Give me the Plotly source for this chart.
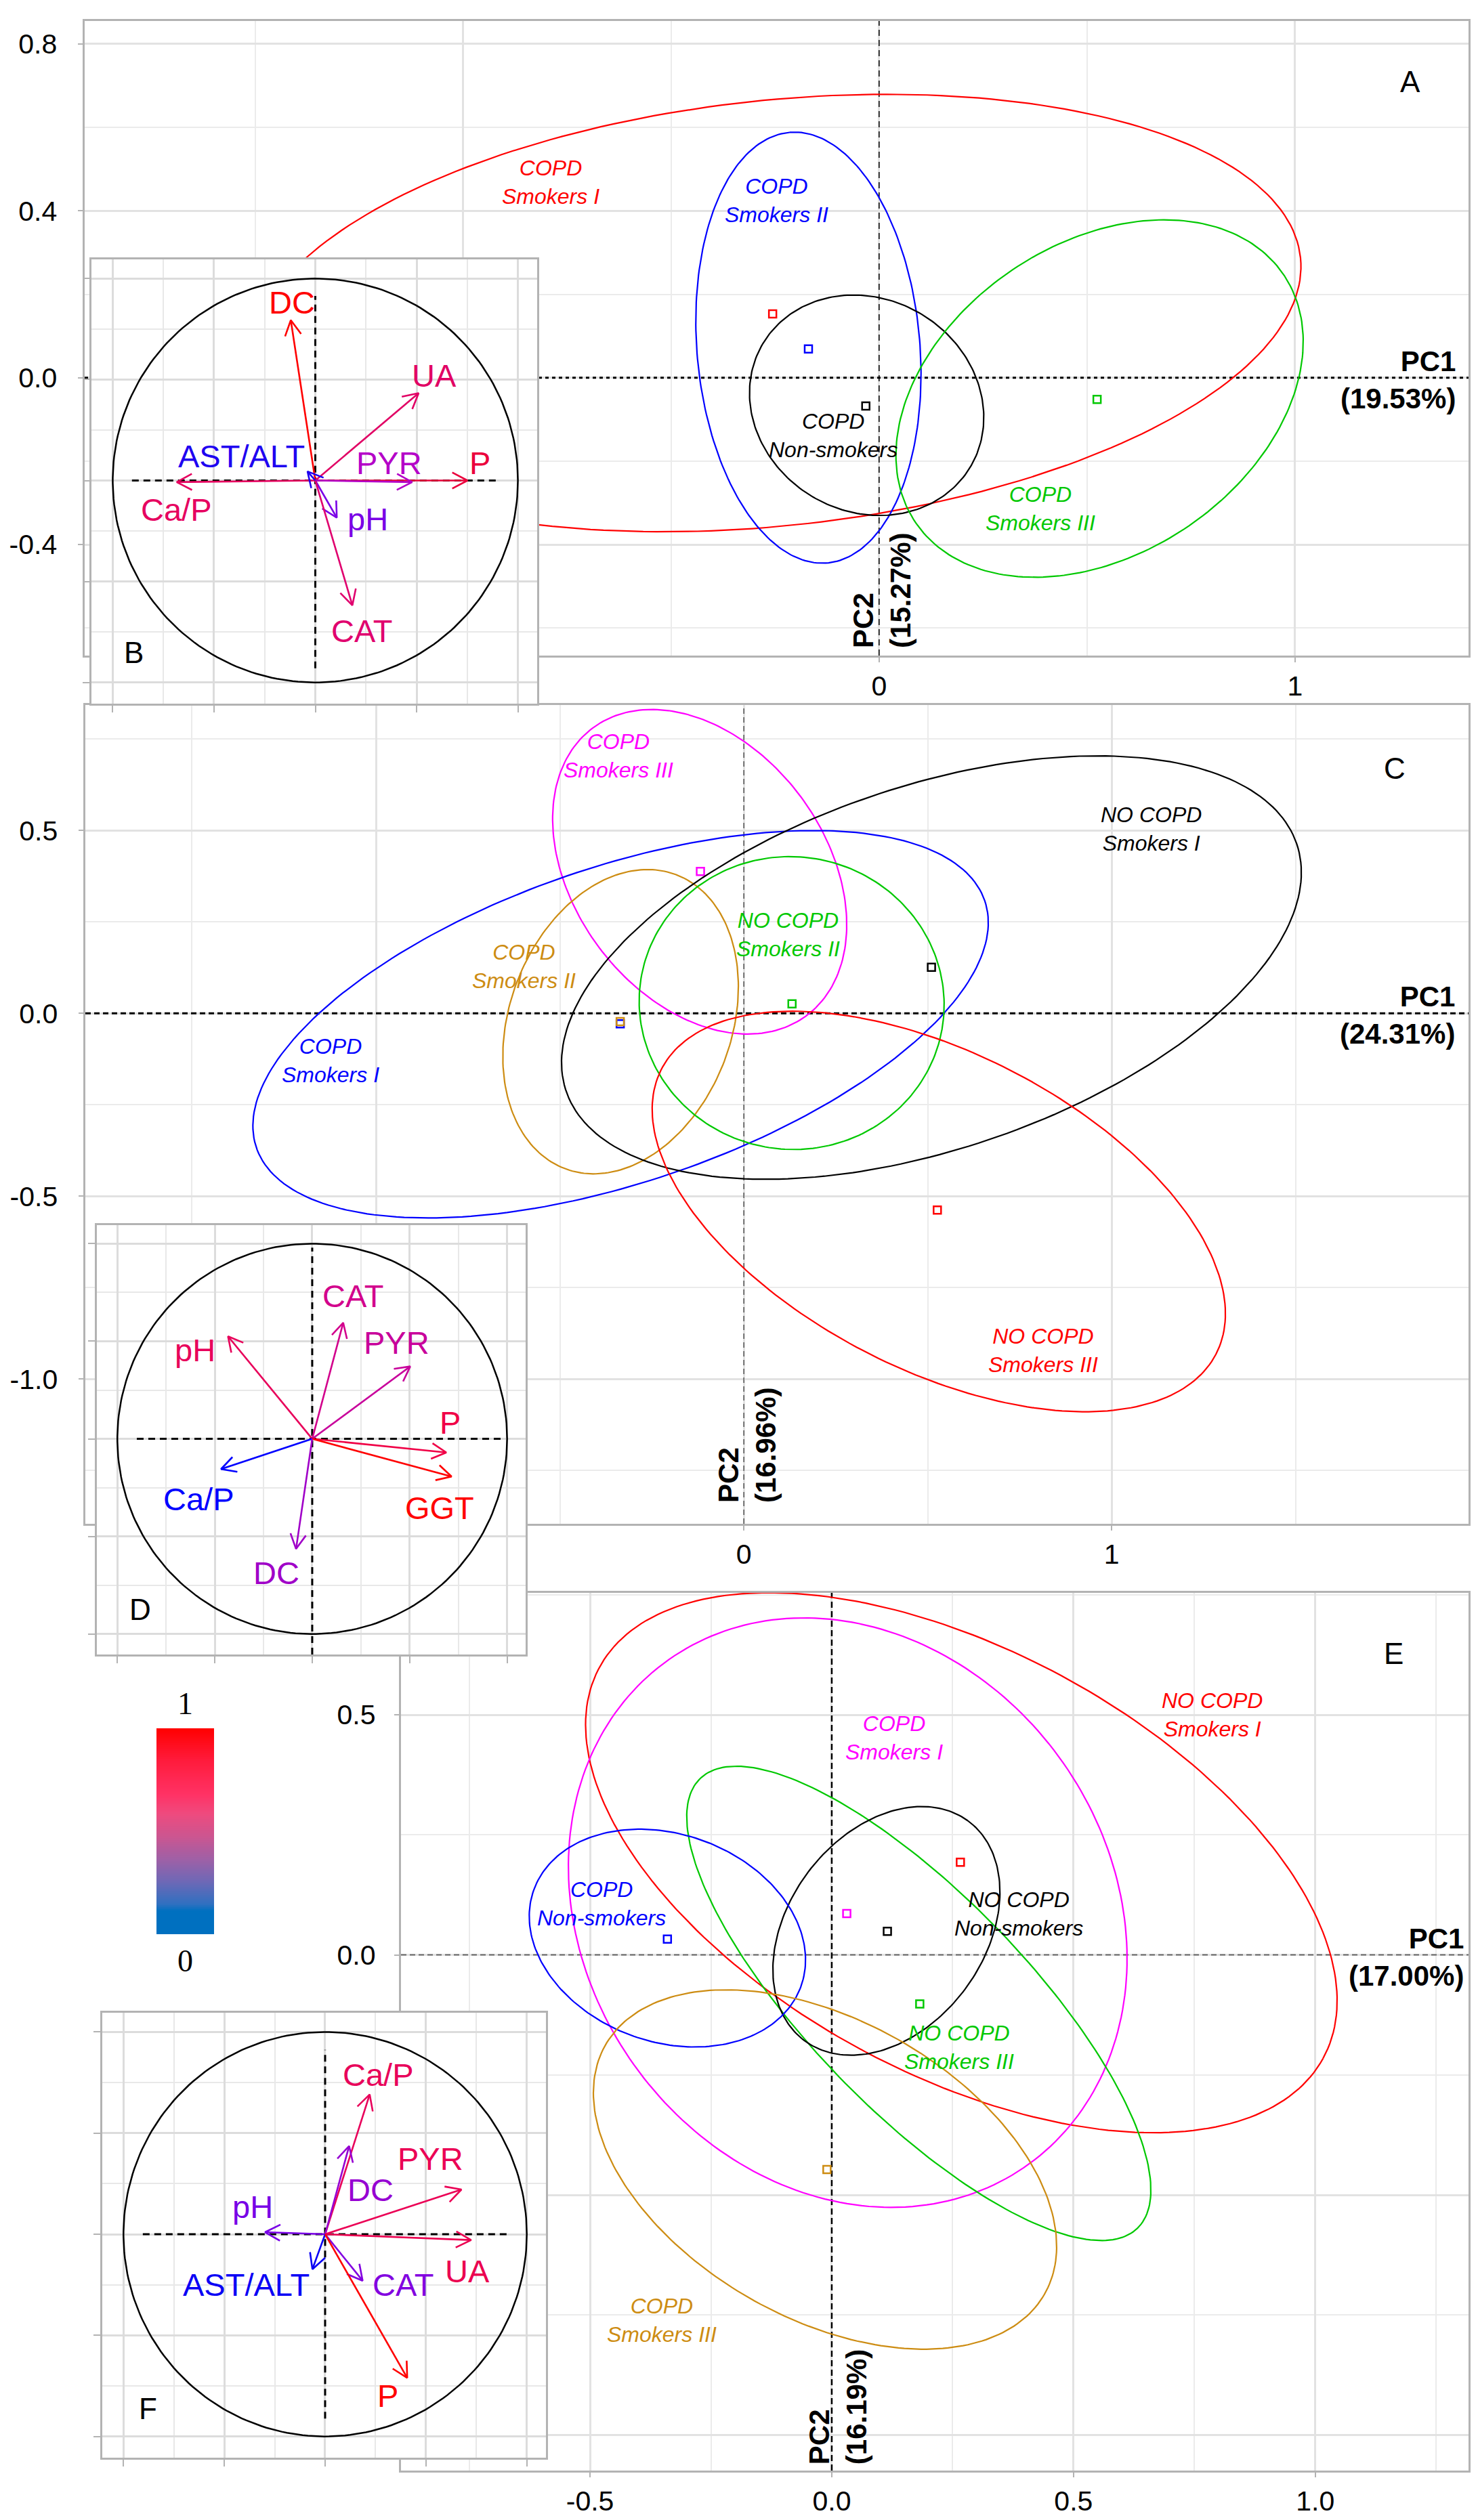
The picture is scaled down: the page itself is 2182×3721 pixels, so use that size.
import numpy as np
import plotly.graph_objects as go

W, H = 2182, 3721
FONT = "Liberation Sans, Arial, sans-serif"

# ---------------- DATA ----------------
# Panel A (groups: mean point + confidence ellipse parameters)
A_names = ["COPD<br>Smokers I", "COPD<br>Smokers II", "COPD<br>Non-smokers", "COPD<br>Smokers III"]
A_colors = ["#FF0000", "#0000FF", "#000000", "#00C800"]
A_pt_x = [-0.256, -0.170, -0.032, 0.524]
A_pt_y = [0.153, 0.069, -0.068, -0.052]
A_ell_cx = [-0.25, -0.17, -0.03, 0.53]
A_ell_cy = [0.155, 0.072, -0.066, -0.05]
A_ell_a = [1.27, 0.518, 0.29, 0.533]
A_ell_b = [0.51, 0.268, 0.255, 0.373]
A_ell_ang = [6, 95, -30, 33.6]
A_lab_x = [-0.789, -0.247, -0.111, 0.388]
A_lab_y = [0.469, 0.425, -0.138, -0.314]

# Panel C
C_names = ["COPD<br>Smokers III", "COPD<br>Smokers I", "COPD<br>Smokers II",
           "NO COPD<br>Smokers I", "NO COPD<br>Smokers II", "NO COPD<br>Smokers III"]
C_colors = ["#FF00FF", "#0000FF", "#CD8C12", "#000000", "#00C800", "#FF0000"]
C_pt_x = [-0.118, -0.336, -0.336, 0.51, 0.131, 0.526]
C_pt_y = [0.388, -0.029, -0.023, 0.126, 0.026, -0.538]
C_ell_cx = [-0.12, -0.335, -0.335, 0.51, 0.13, 0.53]
C_ell_cy = [0.387, -0.03, -0.023, 0.125, 0.028, -0.542]
C_ell_a = [0.489, 1.046, 0.4295, 1.049, 0.415, 0.8485]
C_ell_b = [0.343, 0.431, 0.302, 0.496, 0.40, 0.4325]
C_ell_ang = [-53.9, 18.86, 69.6, 18.85, -10, -27.4]
C_lab_x = [-0.341, -1.123, -0.597, 1.108, 0.121, 0.813]
C_lab_y = [0.704, -0.129, 0.129, 0.505, 0.216, -0.922]

# Panel E
E_names = ["NO COPD<br>Smokers I", "COPD<br>Smokers I", "NO COPD<br>Smokers III",
           "NO COPD<br>Non-smokers", "COPD<br>Non-smokers", "COPD<br>Smokers III"]
E_colors = ["#FF0000", "#FF00FF", "#00C800", "#000000", "#0000FF", "#CD8C12"]
E_pt_x = [0.266, 0.031, 0.182, 0.115, -0.34, -0.01]
E_pt_y = [0.193, 0.086, -0.102, 0.049, 0.033, -0.447]
E_ell_cx = [0.268, 0.033, 0.18, 0.113, -0.34, -0.014]
E_ell_cy = [0.192, 0.088, -0.101, 0.05, 0.035, -0.447]
E_ell_a = [0.852, 0.644, 0.651, 0.2846, 0.294, 0.523]
E_ell_b = [0.441, 0.544, 0.225, 0.203, 0.216, 0.31]
E_ell_ang = [-28.6, -55.6, -46.04, 53.7, -20.3, -29.85]
E_lab_x = [0.787, 0.129, 0.264, 0.387, -0.477, -0.352]
E_lab_y = [0.5, 0.452, -0.192, 0.086, 0.106, -0.761]

# Variable loading insets
B_vars = ["DC", "UA", "P", "PYR", "Ca/P", "AST/ALT", "pH", "CAT"]
B_x = [-0.121, 0.510, 0.751, 0.478, -0.684, -0.0385, 0.106, 0.183]
B_y = [0.794, 0.433, 0.0, -0.008, -0.008, 0.045, -0.184, -0.618]
B_lx = [-0.116, 0.587, 0.813, 0.366, -0.684, -0.366, 0.260, 0.231]
B_ly = [0.882, 0.521, 0.088, 0.088, -0.144, 0.120, -0.192, -0.746]
B_col = ["#FF0000", "#E10064", "#EB003C", "#B400C8", "#E6005F", "#1E00F0", "#7A00E6", "#E0006E"]

D_vars = ["CAT", "PYR", "pH", "P", "GGT", "Ca/P", "DC"]
D_x = [0.159, 0.503, -0.432, 0.688, 0.715, -0.468, -0.083]
D_y = [0.595, 0.371, 0.525, -0.070, -0.193, -0.155, -0.564]
D_lx = [0.212, 0.432, -0.600, 0.706, 0.653, -0.582, -0.185]
D_ly = [0.734, 0.494, 0.456, 0.085, -0.355, -0.309, -0.688]
D_col = ["#D2008C", "#C8009B", "#E8005A", "#F00046", "#FF0000", "#0000FF", "#A000C8"]

F_vars = ["Ca/P", "DC", "PYR", "UA", "pH", "AST/ALT", "CAT", "P"]
F_x = [0.221, 0.119, 0.676, 0.724, -0.298, -0.063, 0.186, 0.407]
F_y = [0.691, 0.436, 0.221, -0.029, 0.010, -0.173, -0.230, -0.710]
F_lx = [0.263, 0.225, 0.522, 0.705, -0.361, -0.390, 0.388, 0.311]
F_ly = [0.787, 0.221, 0.374, -0.182, 0.134, -0.250, -0.250, -0.797]
F_col = ["#E8005A", "#9600D2", "#EB0055", "#EB0050", "#7800E6", "#0A00F5", "#8200E0", "#FF0000"]

# Axis ticks (labels that lie under the insets are blank, as in the figure)
A_xt = [-1, 0, 1]; A_xl = ["", "0", "1"]
A_yt = [-0.4, 0.0, 0.4, 0.8]; A_yl = ["-0.4", "0.0", "0.4", "0.8"]
C_xt = [-1, 0, 1]; C_xl = ["", "0", "1"]
C_yt = [-1.0, -0.5, 0.0, 0.5]; C_yl = ["-1.0", "-0.5", "0.0", "0.5"]
E_xt = [-0.5, 0.0, 0.5, 1.0]; E_xl = ["-0.5", "0.0", "0.5", "1.0"]
E_yt = [-1.0, -0.5, 0.0, 0.5]; E_yl = ["", "", "0.0", "0.5"]

# Colour bar (contribution scale)
cb_scale = [[0, "#0070C0"], [0.115, "#0070C0"], [0.148, "#3070C0"], [0.257, "#6E68B6"],
            [0.367, "#A060A6"], [0.476, "#CC5590"], [0.586, "#EE4A7E"], [0.674, "#FF3366"],
            [0.85, "#FF1A3A"], [1, "#FF0000"]]
cb_levels = list(np.linspace(0, 1, 201))

# ---------------- LAYOUT HELPERS ----------------
def dx(x0, x1):
    return [x0 / W, x1 / W]

def dy(top, bottom):
    return [1 - bottom / H, 1 - top / H]

A_rng = ([-1.910, 1.417], [-0.666, 0.855])
C_rng = ([-1.790, 1.970], [-1.396, 0.843])
E_rng = ([-0.891, 1.317], [-1.074, 0.754])
I_rng = [-1.105, 1.095]

NB = "\u00a0"

def main_axis(rng, tv, tt, minor, domain, anchor, pad=""):
    return dict(domain=domain, range=rng, anchor=anchor, tickmode="array", tickvals=tv,
                ticktext=[(s + pad) if s else "" for s in tt],
                showgrid=True, gridcolor="#e2e2e2", gridwidth=2.5,
                minor=dict(tickmode="array", tickvals=minor, showgrid=True, gridcolor="#ebebeb",
                           gridwidth=2, ticks=""),
                showline=True, mirror=True, linecolor="#b3b3b3", linewidth=2.5,
                ticks="outside", ticklen=7, tickwidth=2, tickcolor="#b3b3b3",
                tickfont=dict(family=FONT, size=41, color="black"),
                zeroline=False, fixedrange=True)

def inset_axis(domain, anchor):
    return dict(domain=domain, range=I_rng, anchor=anchor, tickmode="array",
                tickvals=[-1, -0.5, 0, 0.5, 1], showticklabels=False,
                ticks="outside", ticklen=10, tickwidth=2, tickcolor="#b3b3b3",
                showgrid=True, gridcolor="#dcdcdc", gridwidth=3,
                minor=dict(tickmode="array", tickvals=[-0.75, -0.25, 0.25, 0.75], showgrid=True,
                           gridcolor="#e8e8e8", gridwidth=2, ticks=""),
                showline=True, mirror=True, linecolor="#b3b3b3", linewidth=2.5,
                zeroline=False, fixedrange=True)

fig = go.Figure()
t = np.linspace(0, 2 * np.pi, 240)

def ellipse(cx, cy, a, b, ang):
    th = np.deg2rad(ang)
    x = cx + a * np.cos(t) * np.cos(th) - b * np.sin(t) * np.sin(th)
    y = cy + a * np.cos(t) * np.sin(th) + b * np.sin(t) * np.cos(th)
    return x, y

def add_panel(xa, ya, rng, cx, cy, a, b, ang, px, py, cols, hdash, vdash):
    xr, yr = rng
    # reference lines
    fig.add_trace(go.Scatter(x=[xr[0], xr[1]], y=[0, 0], mode="lines", xaxis=xa, yaxis=ya,
                             line=dict(color=hdash[0], width=hdash[1], dash=hdash[2]),
                             hoverinfo="skip", showlegend=False))
    fig.add_trace(go.Scatter(x=[0, 0], y=[yr[0], yr[1]], mode="lines", xaxis=xa, yaxis=ya,
                             line=dict(color=vdash[0], width=vdash[1], dash=vdash[2]),
                             hoverinfo="skip", showlegend=False))
    for i in range(len(cx)):
        ex, ey = ellipse(cx[i], cy[i], a[i], b[i], ang[i])
        fig.add_trace(go.Scatter(x=ex, y=ey, mode="lines", xaxis=xa, yaxis=ya,
                                 line=dict(color=cols[i], width=2.2), hoverinfo="skip", showlegend=False))
        fig.add_trace(go.Scatter(x=[px[i]], y=[py[i]], mode="markers", xaxis=xa, yaxis=ya,
                                 marker=dict(symbol="square-open", size=11, color=cols[i],
                                             line=dict(width=2.5, color=cols[i])),
                                 hoverinfo="skip", showlegend=False))

add_panel("x", "y", A_rng, A_ell_cx, A_ell_cy, A_ell_a, A_ell_b, A_ell_ang, A_pt_x, A_pt_y, A_colors,
          ("#000000", 3, "5px,5px"), ("#000000", 1.5, "9px,6px"))
add_panel("x2", "y2", C_rng, C_ell_cx, C_ell_cy, C_ell_a, C_ell_b, C_ell_ang, C_pt_x, C_pt_y, C_colors,
          ("#000000", 3, "8px,5px"), ("#555555", 1.5, "8px,5px"))
add_panel("x3", "y3", E_rng, E_ell_cx, E_ell_cy, E_ell_a, E_ell_b, E_ell_ang, E_pt_x, E_pt_y, E_colors,
          ("#666666", 2, "8px,5px"), ("#000000", 2.5, "9px,5px"))

def add_inset(xa, ya, vx, vy, cols, hx, vyr):
    # unit circle
    fig.add_trace(go.Scatter(x=np.cos(t), y=np.sin(t), mode="lines", xaxis=xa, yaxis=ya,
                             line=dict(color="black", width=2.5), hoverinfo="skip", showlegend=False))
    fig.add_trace(go.Scatter(x=[hx[0], hx[1]], y=[0, 0], mode="lines", xaxis=xa, yaxis=ya,
                             line=dict(color="black", width=3, dash="10px,7px"),
                             hoverinfo="skip", showlegend=False))
    fig.add_trace(go.Scatter(x=[0, 0], y=[vyr[0], vyr[1]], mode="lines", xaxis=xa, yaxis=ya,
                             line=dict(color="black", width=3, dash="10px,7px"),
                             hoverinfo="skip", showlegend=False))
    L, half = 0.085, np.deg2rad(28)
    for i in range(len(vx)):
        tx, ty = vx[i], vy[i]
        g = np.arctan2(ty, tx)
        h1x, h1y = tx - L * np.cos(g - half), ty - L * np.sin(g - half)
        h2x, h2y = tx - L * np.cos(g + half), ty - L * np.sin(g + half)
        fig.add_trace(go.Scatter(x=[0, tx, None, h1x, tx, h2x], y=[0, ty, None, h1y, ty, h2y],
                                 mode="lines", xaxis=xa, yaxis=ya,
                                 line=dict(color=cols[i], width=2.6), hoverinfo="skip", showlegend=False))

add_inset("x4", "y4", B_x, B_y, B_col, (-0.905, 0.905), (-0.93, 0.914))
add_inset("x5", "y5", D_x, D_y, D_col, (-0.90, 0.98), (-1.105, 0.98))
add_inset("x6", "y6", F_x, F_y, F_col, (-0.904, 0.916), (-0.912, 0.912))

# colour bar
fig.add_trace(go.Heatmap(z=[[v] for v in cb_levels], x=[0.5], y=cb_levels, colorscale=cb_scale,
                         zmin=0, zmax=1, showscale=False, xaxis="x7", yaxis="y7", hoverinfo="skip"))

# ---------------- ANNOTATIONS ----------------
ann = []

def group_labels(xr, yr, names, lx, ly, cols):
    for i in range(len(names)):
        ann.append(dict(x=lx[i], y=ly[i], xref=xr, yref=yr, text="<i>" + names[i] + "</i>",
                        showarrow=False, font=dict(family=FONT, size=32, color=cols[i]),
                        xanchor="center", yanchor="middle", align="center"))

group_labels("x", "y", A_names, A_lab_x, A_lab_y, A_colors)
group_labels("x2", "y2", C_names, C_lab_x, C_lab_y, C_colors)
group_labels("x3", "y3", E_names, E_lab_x, E_lab_y, E_colors)

def pc_labels(xr, yr, pc1, pc1x, pc2, pc2x, pc2y):
    ann.append(dict(x=pc1x, y=-0.005, xref=xr, yref=yr, text="<b>PC1</b><br><b>(" + pc1 + ")</b>",
                    showarrow=False, font=dict(family=FONT, size=42, color="black"),
                    xanchor="right", yanchor="middle", align="right"))
    ann.append(dict(x=pc2x, y=pc2y, xref=xr, yref=yr, text="<b>PC2</b><br><b>(" + pc2 + ")</b>",
                    showarrow=False, textangle=-90, font=dict(family=FONT, size=42, color="black"),
                    xanchor="center", yanchor="bottom", align="left"))

pc_labels("x", "y", "19.53%", 1.39, "15.27%", 0.007, -0.651)
pc_labels("x2", "y2", "24.31%", 1.936, "16.96%", 0.01, -1.343)
pc_labels("x3", "y3", "17.00%", 1.31, "16.19%", 0.013, -1.064)

for xr, yr, letter, lx, ly in [("x", "y", "A", 1.277, 0.709), ("x2", "y2", "C", 1.769, 0.670),
                               ("x3", "y3", "E", 1.162, 0.628), ("x4", "y4", "B", -0.896, -0.852),
                               ("x5", "y5", "D", -0.882, -0.874), ("x6", "y6", "F", -0.878, -0.863)]:
    ann.append(dict(x=lx, y=ly, xref=xr, yref=yr, text=letter, showarrow=False,
                    font=dict(family=FONT, size=44, color="black"), xanchor="center", yanchor="middle"))

def inset_labels(xr, yr, names, lx, ly, cols):
    for i in range(len(names)):
        ann.append(dict(x=lx[i], y=ly[i], xref=xr, yref=yr, text=names[i], showarrow=False,
                        font=dict(family=FONT, size=47, color=cols[i]), xanchor="center", yanchor="middle"))

inset_labels("x4", "y4", B_vars, B_lx, B_ly, B_col)
inset_labels("x5", "y5", D_vars, D_lx, D_ly, D_col)
inset_labels("x6", "y6", F_vars, F_lx, F_ly, F_col)

ann.append(dict(x=265 / W, y=1 - 2507 / H, xref="paper", yref="paper", text="1", showarrow=False,
                font=dict(family="Liberation Serif, serif", size=46, color="black"),
                xanchor="center", yanchor="middle"))
ann.append(dict(x=265 / W, y=1 - 2887 / H, xref="paper", yref="paper", text="0", showarrow=False,
                font=dict(family="Liberation Serif, serif", size=46, color="black"),
                xanchor="center", yanchor="middle"))

layout = dict(
    width=W, height=H, margin=dict(l=0, r=0, t=0, b=0),
    paper_bgcolor="white", plot_bgcolor="white", showlegend=False,
    font=dict(family=FONT, color="black"), annotations=ann,
    xaxis=main_axis(A_rng[0], A_xt, A_xl, [-1.5, -0.5, 0.5], dx(117, 2160), "y"),
    yaxis=main_axis(A_rng[1], A_yt, A_yl, [-0.6, -0.2, 0.2, 0.6], dy(23, 960), "x", NB * 2),
    xaxis2=main_axis(C_rng[0], C_xt, C_xl, [-1.5, -0.5, 0.5, 1.5], dx(118, 2160), "y2"),
    yaxis2=main_axis(C_rng[1], C_yt, C_yl, [-1.25, -0.75, -0.25, 0.25, 0.75], dy(1033, 2242), "x2", NB * 2),
    xaxis3=main_axis(E_rng[0], E_xt, E_xl, [-0.75, -0.25, 0.25, 0.75, 1.25], dx(584, 2160), "y3"),
    yaxis3=main_axis(E_rng[1], E_yt, E_yl, [-0.75, -0.25, 0.25, 0.75], dy(2344, 3640), "x3", NB + "\u2009"),
    xaxis4=inset_axis(dx(127, 785), "y4"), yaxis4=inset_axis(dy(375, 1031), "x4"),
    xaxis5=inset_axis(dx(135, 768), "y5"), yaxis5=inset_axis(dy(1801, 2435), "x5"),
    xaxis6=inset_axis(dx(143, 798), "y6"), yaxis6=inset_axis(dy(2964, 3621), "x6"),
    xaxis7=dict(domain=dx(223, 308), anchor="y7", visible=False, fixedrange=True),
    yaxis7=dict(domain=dy(2544, 2848), anchor="x7", visible=False, range=[0, 1], fixedrange=True),
)
fig.update_layout(**layout)
fig.write_html("out.html")
